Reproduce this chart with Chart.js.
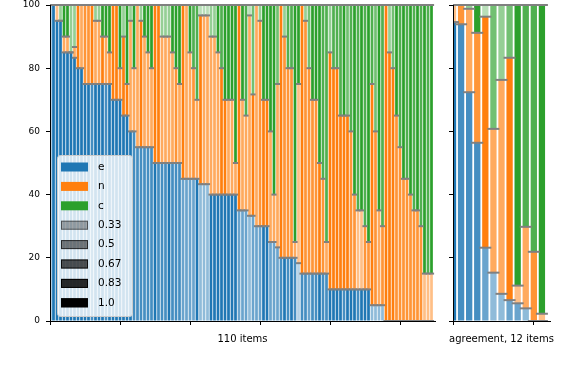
<!DOCTYPE html>
<html>
<head>
<meta charset="utf-8">
<script src="https://cdn.jsdelivr.net/npm/chart.js@4/dist/chart.umd.min.js"></script>
<style>
  body { margin: 0; background: #fff; }
  #wrap { position: relative; width: 576px; height: 370px; overflow: hidden; }
  canvas { position: absolute; top: 0; }
</style>
</head>
<body>
<div id="wrap">
  <canvas id="items-chart" width="440" height="370" style="left:0"></canvas>
  <canvas id="agree-chart" width="136" height="370" style="left:440px"></canvas>
</div>
<script>
// 110 items: e = top of the blue part, t = top of the orange part (e + n), c is the rest up to 100
const itemE = [
  100, 100, 95, 95, 85, 85, 85, 83.3, 80, 80,
  75, 75, 75, 75, 75, 75, 75, 75, 70, 70,
  70, 65, 65, 60, 60, 55, 55, 55, 55, 55,
  50, 50, 50, 50, 50, 50, 50, 50, 45, 45,
  45, 45, 45, 43.3, 43.3, 43.3, 40, 40, 40, 40,
  40, 40, 40, 40, 35, 35, 35, 33.3, 33.3, 30,
  30, 30, 30, 25, 25, 23.3, 20, 20, 20, 20,
  20, 18.3, 15, 15, 15, 15, 15, 15, 15, 15,
  10, 10, 10, 10, 10, 10, 10, 10, 10, 10,
  10, 10, 5, 5, 5, 5, 0, 0, 0, 0,
  0, 0, 0, 0, 0, 0, 0, 0, 0, 0
];
const itemT = [
  100, 100, 100, 95, 90, 90, 85, 86.7, 100, 100,
  100, 100, 100, 95, 95, 90, 90, 85, 100, 100,
  80, 90, 75, 95, 80, 100, 95, 90, 85, 80,
  100, 100, 90, 90, 90, 85, 80, 75, 100, 100,
  85, 80, 70, 96.7, 96.7, 96.7, 90, 90, 85, 80,
  70, 70, 70, 50, 100, 70, 65, 96.7, 71.7, 100,
  95, 70, 70, 60, 40, 75, 100, 90, 80, 80,
  25, 75, 100, 95, 80, 70, 70, 50, 45, 25,
  85, 80, 80, 65, 65, 65, 60, 40, 35, 35,
  30, 25, 75, 60, 35, 30, 100, 85, 80, 65,
  55, 45, 45, 40, 35, 35, 30, 15, 15, 15
];
// agreement level of each segment, in sixths (2 = 0.33 ... 6 = 1.0)
const itemAlphaE = [
  6, 6, 6, 6, 6, 6, 6, 6, 6, 6,
  6, 6, 5, 6, 6, 6, 5, 6, 6, 6,
  6, 6, 6, 6, 5, 5, 5, 5, 5, 5,
  6, 5, 5, 5, 6, 5, 5, 5, 4, 4,
  4, 4, 6, 3, 3, 3, 6, 6, 6, 6,
  6, 6, 6, 6, 4, 4, 4, 3, 4, 4,
  4, 6, 6, 4, 4, 4, 5, 6, 5, 6,
  5, 2, 5, 5, 4, 5, 5, 6, 5, 5,
  6, 6, 6, 6, 5, 6, 6, 6, 5, 6,
  6, 6, 3, 3, 3, 3, 6, 6, 6, 6,
  6, 6, 6, 6, 6, 6, 6, 6, 6, 6
];
const itemAlphaN = [
  3, 3, 3, 3, 4, 4, 4, 4, 6, 4,
  5, 5, 6, 4, 4, 6, 4, 5, 6, 6,
  5, 6, 6, 4, 4, 4, 6, 4, 4, 4,
  6, 6, 4, 4, 4, 4, 5, 4, 6, 4,
  4, 5, 4, 6, 4, 4, 4, 4, 4, 6,
  6, 4, 4, 4, 6, 4, 4, 4, 6, 4,
  5, 6, 6, 4, 4, 4, 6, 5, 5, 5,
  4, 3, 6, 5, 5, 5, 5, 6, 5, 4,
  6, 6, 6, 6, 6, 6, 5, 5, 3, 3,
  5, 5, 6, 5, 4, 5, 6, 6, 6, 5,
  5, 5, 5, 5, 5, 5, 5, 3, 3, 3
];
const itemAlphaC = [
  6, 6, 6, 3, 6, 6, 3, 3, 6, 6,
  6, 6, 6, 3, 3, 6, 6, 6, 6, 6,
  6, 3, 6, 3, 6, 6, 3, 6, 6, 6,
  6, 6, 3, 3, 3, 6, 6, 6, 6, 6,
  6, 5, 5, 2, 2, 2, 3, 3, 6, 5,
  6, 6, 6, 6, 6, 6, 5, 2, 4, 6,
  3, 6, 6, 6, 6, 4, 6, 3, 5, 5,
  6, 6, 6, 3, 4, 6, 6, 6, 5, 5,
  3, 5, 5, 5, 6, 4, 5, 6, 5, 6,
  5, 6, 5, 4, 6, 5, 6, 3, 4, 6,
  5, 6, 5, 6, 5, 6, 5, 6, 5, 6
];

// 12 agreement items
const agreeE = [94.6, 93.9, 72.4, 56.4, 23.2, 15.3, 8.6, 6.6, 5.6, 4.0, 0, 0];
const agreeT = [100, 100, 98.8, 91.2, 96.3, 60.8, 76.3, 83.3, 11.2, 29.8, 21.9, 2.3];
const agreeAlphaE = [6, 5, 5, 5, 4, 3, 3, 4, 4, 3, 6, 6];
const agreeAlphaN = [3, 5, 4, 5, 6, 4, 4, 6, 3, 4, 5, 3];
const agreeAlphaC = [6, 6, 3, 6, 2, 4, 3, 4, 6, 5, 5, 6];

const legendLabels = ['e', 'n', 'c'];
const legendLevels = ['0.33', '0.5', '0.67', '0.83', '1.0'];
const itemsTitle = '110 items';
const agreeTitle = 'agreement, 12 items';

const BLUE = '31,119,180', ORANGE = '255,127,14', GREEN = '44,160,44';
Chart.defaults.font.family = 'DejaVu Sans';

function shade(rgb, levels) {
  return levels.map(k => 'rgba(' + rgb + ',' + (k / 6).toFixed(3) + ')');
}

// three floating bar segments per item plus gray marks at each segment top
function makeDatasets(eVals, tVals, aE, aN, aC, markR) {
  const marks = [];
  eVals.forEach((e, i) => {
    marks.push({x: i, y: e}, {x: i, y: tVals[i]}, {x: i, y: 100});
  });
  const seg = (lo, hi) => eVals.map((e, i) => ({x: i, y: [lo(i), hi(i)]}));
  const barOpts = {type: 'bar', grouped: false, clip: 0, borderWidth: 0, barPercentage: 0.78, categoryPercentage: 1};
  return [
    {type: 'line', label: 'marks', data: marks, showLine: false, pointStyle: 'line',
     pointRadius: markR, pointBorderColor: '#808080', pointBorderWidth: 2,
     clip: {left: 0, right: 0, top: 3, bottom: 3}},
    Object.assign({label: 'e', data: seg(i => 0, i => eVals[i]), backgroundColor: shade(BLUE, aE)}, barOpts),
    Object.assign({label: 'n', data: seg(i => eVals[i], i => tVals[i]), backgroundColor: shade(ORANGE, aN)}, barOpts),
    Object.assign({label: 'c', data: seg(i => tVals[i], i => 100), backgroundColor: shade(GREEN, aC)}, barOpts)
  ];
}

function makeScales(xMax, xStep, showY, yWidth) {
  const grid = {drawOnChartArea: false, drawTicks: true, tickLength: 4, tickColor: '#000', tickWidth: 1, offset: false};
  const border = {display: true, color: '#000', width: 1, z: 1};
  return {
    x: {
      type: 'linear', min: 0, max: xMax, offset: false,
      ticks: {display: false, stepSize: xStep, includeBounds: false},
      grid: grid, border: border,
      afterFit: s => { s.height = 49; s.paddingLeft = 0; s.paddingRight = 0; }
    },
    y: {
      type: 'linear', min: 0, max: 100,
      ticks: {display: showY, stepSize: 20, color: '#000', padding: 6, font: {size: 9}},
      grid: grid, border: border,
      afterFit: s => { s.width = yWidth; s.paddingTop = 5; s.paddingBottom = 0; }
    }
  };
}

// x title under the plot; drawn here so it is not squeezed to the narrow plot width
const bottomTitle = {
  id: 'bottomTitle',
  afterDraw(chart, args, opts) {
    const {ctx, chartArea} = chart;
    ctx.save();
    ctx.font = '10px "DejaVu Sans"';
    ctx.fillStyle = '#000';
    ctx.textAlign = 'center';
    ctx.textBaseline = 'middle';
    ctx.fillText(opts.text, (chartArea.left + chartArea.right) / 2, chartArea.bottom + 18);
    ctx.restore();
  }
};

// legend sits inside the plot, bottom left, like the original
const insideLegend = {
  id: 'insideLegend',
  afterDraw(chart) {
    const {ctx, chartArea} = chart;
    const x0 = chartArea.left + 7, y0 = chartArea.top + 150;
    ctx.save();
    ctx.beginPath();
    if (ctx.roundRect) ctx.roundRect(x0 + 0.5, y0 + 0.5, 75, 161, 3);
    else ctx.rect(x0 + 0.5, y0 + 0.5, 75, 161);
    ctx.fillStyle = 'rgba(255,255,255,0.8)';
    ctx.fill();
    ctx.strokeStyle = '#cccccc';
    ctx.lineWidth = 1;
    ctx.stroke();

    const rows = legendLabels.map((lab, k) => ({text: lab, fill: 'rgb(' + [BLUE, ORANGE, GREEN][k] + ')', stroke: null}))
      .concat(legendLevels.map(a => ({
        text: a,
        fill: 'rgba(0,0,0,' + parseFloat(a) + ')',
        stroke: 'rgba(0,0,0,' + Math.min(1, parseFloat(a) + 0.15) + ')'
      })));
    ctx.font = '10.5px "DejaVu Sans"';
    ctx.textBaseline = 'middle';
    rows.forEach((r, k) => {
      const cy = y0 + 12 + k * 19.4;
      ctx.fillStyle = r.fill;
      ctx.fillRect(x0 + 4, cy - 4.5, 27, 9);
      if (r.stroke) {
        ctx.strokeStyle = r.stroke;
        ctx.strokeRect(x0 + 4.5, cy - 4, 26, 8);
      }
      ctx.fillStyle = '#000';
      ctx.fillText(r.text, x0 + 41, cy);
    });
    ctx.restore();
  }
};

function baseOptions(padRight, title) {
  return {
    responsive: false,
    animation: false,
    devicePixelRatio: 1,
    events: [],
    layout: {autoPadding: false, padding: {left: 0, right: padRight, top: 0, bottom: 0}},
    plugins: {legend: {display: false}, tooltip: {enabled: false}, bottomTitle: {text: title}}
  };
}

new Chart(document.getElementById('items-chart'), {
  type: 'bar',
  data: {datasets: makeDatasets(itemE, itemT, itemAlphaE, itemAlphaN, itemAlphaC, 2.6)},
  options: Object.assign(baseOptions(5, itemsTitle), {scales: makeScales(110, 20, true, 50)}),
  plugins: [bottomTitle, insideLegend]
});

new Chart(document.getElementById('agree-chart'), {
  type: 'bar',
  data: {datasets: makeDatasets(agreeE, agreeT, agreeAlphaE, agreeAlphaN, agreeAlphaC, 6)},
  options: Object.assign(baseOptions(26, agreeTitle), {scales: makeScales(12, 10, false, 13)}),
  plugins: [bottomTitle]
});
</script>
</body>
</html>
